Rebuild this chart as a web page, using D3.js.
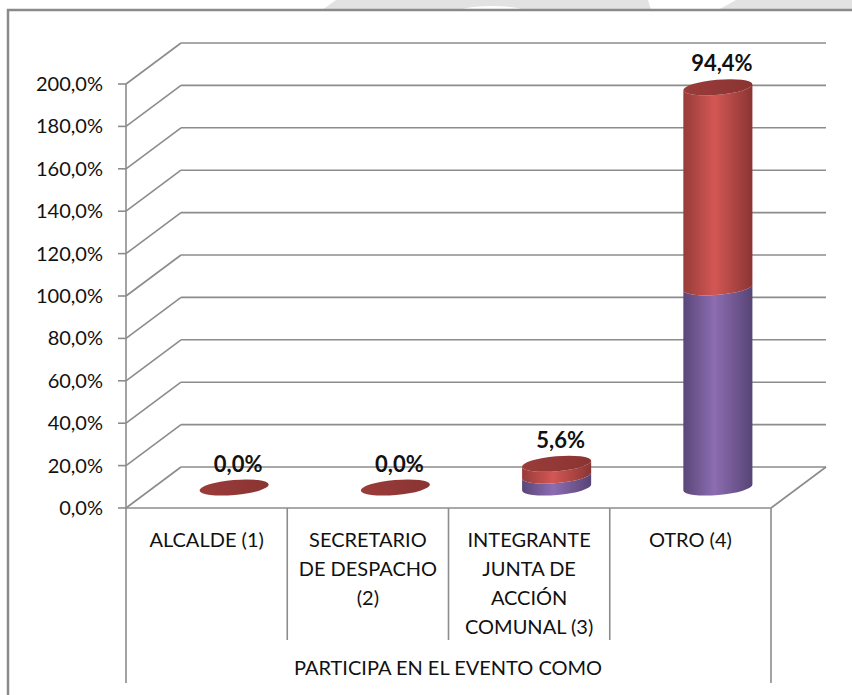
<!DOCTYPE html>
<html lang="es">
<head>
  <meta charset="UTF-8">
  <title>Participa en el evento como</title>
  <script src="https://d3js.org/d3.v7.min.js"></script>
  <style>
    body { margin: 0; background: #fff; }
    text { font-family: Lato, "Noto Sans", sans-serif; fill: #111; }
  </style>
</head>
<body>
  <svg width="852" height="695"></svg>

  <script>
    // Data
    var categories = ["ALCALDE (1)", "SECRETARIO DE DESPACHO (2)", "INTEGRANTE JUNTA DE ACCIÓN COMUNAL (3)", "OTRO (4)"];
    var categoryLines = [["ALCALDE (1)"], ["SECRETARIO", "DE DESPACHO", "(2)"], ["INTEGRANTE", "JUNTA DE", "ACCIÓN", "COMUNAL (3)"], ["OTRO (4)"]];
    var purpleValues = [0, 0, 5.6, 94.4];
    var redValues = [0, 0, 5.6, 94.4];
    var yTicks = [0, 20, 40, 60, 80, 100, 120, 140, 160, 180, 200];
    var axisTitle = "PARTICIPA EN EL EVENTO COMO";

    var svg = d3.select("svg");

    // faint watermark shapes at the top edge
    svg.append("path").attr("d", "M322,10 L336,0 L648,0 L651,10 Z").attr("fill", "#e2e2e2");
    svg.append("path").attr("d", "M718,10 L736,0 L852,0 L852,10 Z").attr("fill", "#e2e2e2");
    svg.append("ellipse").attr("cx", 492).attr("cy", 12).attr("rx", 34).attr("ry", 6).attr("fill", "#fff");

    // outer frame
    svg.append("rect").attr("x", 8).attr("y", 10).attr("width", 860).attr("height", 700)
      .attr("fill", "#fff").attr("stroke", "#8a8a8a").attr("stroke-width", 2.5);

    var depthX = 55, depthY = 41;
    var y = d3.scaleLinear().domain([0, 200]).range([508, 84]);
    var x = d3.scaleBand().domain(categories).range([126, 771]);
    var fmt = function(v) { return v.toFixed(1).replace(".", ",") + "%"; };

    var gridColor = "#8c8c8c";
    var grid = svg.append("g").attr("stroke", gridColor).attr("stroke-width", 1.6).attr("fill", "none");

    yTicks.forEach(function(t) {
      var yy = y(t);
      grid.append("line").attr("x1", 118).attr("x2", 126).attr("y1", yy).attr("y2", yy);
      grid.append("line").attr("x1", 126).attr("y1", yy).attr("x2", 126 + depthX).attr("y2", yy - depthY);
      grid.append("line").attr("x1", 126 + depthX).attr("x2", 771 + depthX).attr("y1", yy - depthY).attr("y2", yy - depthY);
    });
    // floor front edge and right side
    grid.append("line").attr("x1", 126).attr("x2", 771).attr("y1", y(0)).attr("y2", y(0));
    grid.append("line").attr("x1", 771).attr("y1", y(0)).attr("x2", 771 + depthX).attr("y2", y(0) - depthY);
    // left wall and category table
    grid.append("line").attr("x1", 126).attr("x2", 126).attr("y1", y(200)).attr("y2", 683);
    grid.append("line").attr("x1", 771).attr("x2", 771).attr("y1", y(0)).attr("y2", 683);
    categories.slice(1).forEach(function(c) {
      grid.append("line").attr("x1", x(c)).attr("x2", x(c)).attr("y1", y(0)).attr("y2", 640);
    });

    // y tick labels
    svg.append("g").selectAll("text").data(yTicks).enter().append("text")
      .attr("x", 103).attr("y", function(d) { return y(d) + 7; })
      .attr("text-anchor", "end").attr("font-size", 20)
      .text(function(d) { return fmt(d); });

    // category labels
    var catG = svg.append("g");
    categories.forEach(function(c, i) {
      categoryLines[i].forEach(function(line, j) {
        catG.append("text")
          .attr("x", x(c) + x.bandwidth() / 2).attr("y", 547 + j * 29)
          .attr("text-anchor", "middle").attr("font-size", 20).text(line);
      });
    });
    svg.append("text").attr("x", 448).attr("y", 675).attr("text-anchor", "middle")
      .attr("font-size", 20).text(axisTitle);

    // gradients for the cylinders
    var defs = svg.append("defs");
    function grad(id, stops) {
      var g = defs.append("linearGradient").attr("id", id).attr("x1", "0%").attr("x2", "100%");
      stops.forEach(function(s) { g.append("stop").attr("offset", s[0]).attr("stop-color", s[1]); });
    }
    grad("gRed", [["0%", "#963c3a"], ["45%", "#d35754"], ["100%", "#8a3533"]]);
    grad("gPurple", [["0%", "#5a4679"], ["45%", "#8c6db1"], ["100%", "#574475"]]);
    grad("gTop", [["0%", "#9a3c3a"], ["100%", "#8a3432"]]);

    var rx = x.bandwidth() * 0.215, ry = 7.5, rot = -5;
    var th = rot * Math.PI / 180;
    var ddx = rx * Math.cos(th), ddy = rx * Math.sin(th);

    function sidePath(cx, y0, y1) {
      return "M" + (cx - ddx) + "," + (y1 - ddy) +
        " L" + (cx - ddx) + "," + (y0 - ddy) +
        " A" + rx + "," + ry + " " + rot + " 0 0 " + (cx + ddx) + "," + (y0 + ddy) +
        " L" + (cx + ddx) + "," + (y1 + ddy) +
        " A" + rx + "," + ry + " " + rot + " 0 1 " + (cx - ddx) + "," + (y1 - ddy) + " Z";
    }

    var bars = svg.append("g");
    categories.forEach(function(c, i) {
      var cx = x(c) + x.bandwidth() / 2 + depthX / 2;
      var base = y(0) - depthY / 2;
      var shift = base - y(0);
      var yPurple = y(purpleValues[i]) + shift;
      var yTop = y(purpleValues[i] + redValues[i]) + shift;
      if (purpleValues[i] > 0) {
        bars.append("path").attr("d", sidePath(cx, base, yPurple)).attr("fill", "url(#gPurple)");
      }
      if (redValues[i] > 0) {
        bars.append("path").attr("d", sidePath(cx, yPurple, yTop)).attr("fill", "url(#gRed)");
      }
      bars.append("ellipse").attr("cx", cx).attr("cy", yTop).attr("rx", rx).attr("ry", ry)
        .attr("transform", "rotate(" + rot + "," + cx + "," + yTop + ")")
        .attr("fill", "url(#gTop)");
      svg.append("text").attr("x", cx + 4).attr("y", yTop - 16)
        .attr("text-anchor", "middle").attr("font-size", 22).attr("font-weight", "bold")
        .text(fmt(redValues[i]));
    });
  </script>
</body>
</html>
